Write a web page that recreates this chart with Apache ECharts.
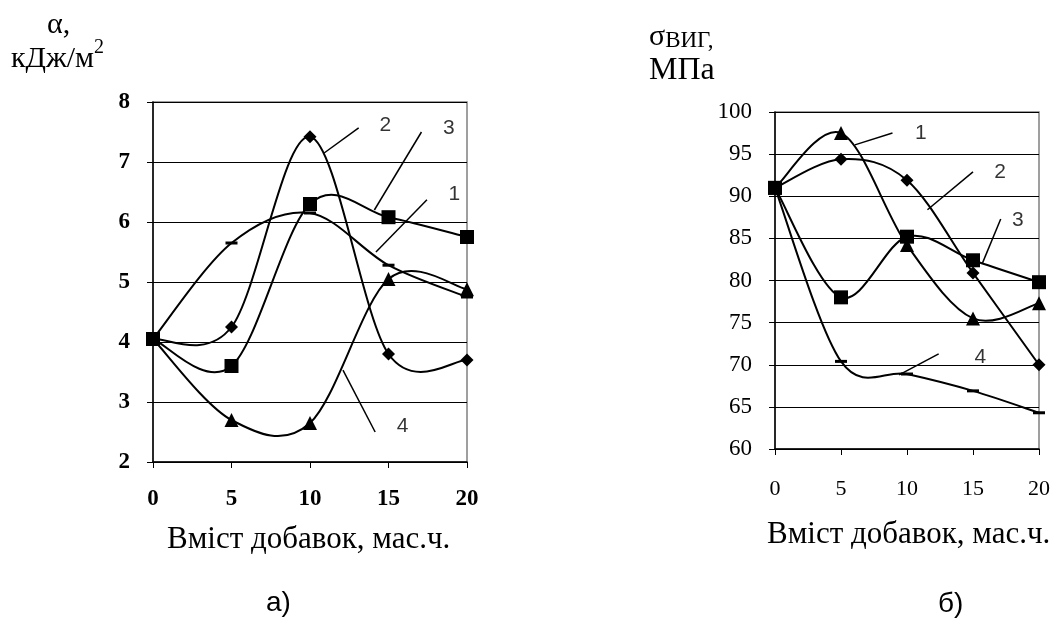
<!DOCTYPE html>
<html><head><meta charset="utf-8">
<script src="https://cdn.jsdelivr.net/npm/echarts@6/dist/echarts.min.js"></script>
<style>html,body{margin:0;padding:0;background:#fff}#c{width:1053px;height:619px}</style>
</head><body><div id="c"></div>
<script>
// X values (content of additives, parts by mass)
const xValues = [0, 5, 10, 15, 20];
// Chart a) impact strength, kJ/m2
const a1 = [4.05, 5.65, 6.15, 5.28, 4.75];
const a2 = [4.05, 4.25, 7.42, 3.80, 3.70];
const a3 = [4.05, 3.60, 6.30, 6.08, 5.75];
const a4 = [4.05, 2.70, 2.65, 5.05, 4.88];
// Chart b) bending strength, MPa
const b1 = [91.0, 97.5, 84.2, 75.5, 77.3];
const b2 = [91.0, 94.4, 91.9, 80.9, 70.0];
const b3 = [91.0, 78.0, 85.2, 82.4, 79.8];
const b4 = [91.0, 70.4, 68.9, 66.9, 64.3];
// Curve label annotations [x, y, text] and leader lines [[x1,y1],[x2,y2]] in data units
const aLabels = [[14.8, 7.62, '2'], [18.85, 7.57, '3'], [19.2, 6.47, '1'], [15.9, 2.6, '4']];
const aLeaders = [[[13.1, 7.57], [10.9, 7.15]], [[17.1, 7.5], [14.1, 6.2]], [[17.45, 6.37], [14.2, 5.5]], [[14.15, 2.5], [12.1, 3.53]]];
const bLabels = [[11.05, 97.5, '1'], [17.06, 92.8, '2'], [18.4, 87.2, '3'], [15.55, 70.9, '4']];
const bLeaders = [[[8.9, 97.5], [6.05, 96.1]], [[15.0, 92.9], [11.55, 88.4]], [[17.1, 87.3], [15.7, 82.0]], [[12.4, 71.3], [9.4, 68.8]]];

const pairs = arr => arr.map((v, i) => [xValues[i], v]);
const chart = echarts.init(document.getElementById('c'));
const serif = 'Liberation Serif';
const sans = 'Liberation Sans';
const markers = {
  diamond: {symbol: 'diamond', symbolSize: 13},
  square: {symbol: 'rect', symbolSize: 14},
  triangle: {symbol: 'triangle', symbolSize: 14},
  dash: {symbol: 'rect', symbolSize: [12, 3]}
};
// Spline through the data points (spreadsheet-style smoothing), drawn via the axis scales
function curve(data, idx) {
  return {
    type: 'custom', xAxisIndex: idx, yAxisIndex: idx, data: pairs(data), z: 3, silent: true,
    renderItem: function (params, api) {
      const i = params.dataIndex, n = data.length;
      if (i >= n - 1) return null;
      const p = data.map((v, k) => api.coord([xValues[k], v]));
      const p0 = p[Math.max(i - 1, 0)], p1 = p[i], p2 = p[i + 1], p3 = p[Math.min(i + 2, n - 1)];
      const t = 1 / 6;
      return {type: 'bezierCurve', shape: {
        x1: p1[0], y1: p1[1], x2: p2[0], y2: p2[1],
        cpx1: p1[0] + (p2[0] - p0[0]) * t, cpy1: p1[1] + (p2[1] - p0[1]) * t,
        cpx2: p2[0] - (p3[0] - p1[0]) * t, cpy2: p2[1] - (p3[1] - p1[1]) * t
      }, style: {stroke: '#000', lineWidth: 2, fill: null}};
    }
  };
}
function marks(data, idx, m) {
  return Object.assign({type: 'scatter', xAxisIndex: idx, yAxisIndex: idx, data: pairs(data),
    itemStyle: {color: '#000', opacity: 1}, z: 4, silent: true}, markers[m]);
}
function labelSeries(labels, idx) {
  return {type: 'scatter', xAxisIndex: idx, yAxisIndex: idx, data: labels, symbolSize: 1,
    itemStyle: {color: 'rgba(0,0,0,0)'}, silent: true, z: 6,
    label: {show: true, position: 'inside', formatter: p => p.value[2], color: '#000',
      textBorderWidth: 0, fontFamily: sans, fontSize: 21}};
}
function leaderSeries(leaders, idx) {
  return {type: 'lines', coordinateSystem: 'cartesian2d', xAxisIndex: idx, yAxisIndex: idx,
    data: leaders.map(c => ({coords: c})), lineStyle: {color: '#000', width: 1.5, opacity: 1}, z: 5, silent: true};
}
function xAxis(idx, bold, margin) {
  return {type: 'value', gridIndex: idx, min: 0, max: 20, interval: 5,
    axisLine: {show: true, lineStyle: {color: '#000', width: 1.5}},
    axisTick: {show: true, length: 6, lineStyle: {color: '#000'}},
    splitLine: {show: false},
    axisLabel: {color: '#000', fontFamily: serif, fontSize: bold ? 23 : 22, fontWeight: bold ? 'bold' : 'normal', margin: margin}};
}
function yAxis(idx, min, max, interval, bold) {
  return {type: 'value', gridIndex: idx, min: min, max: max, interval: interval,
    axisLine: {show: true, lineStyle: {color: '#000', width: 1.5}},
    axisTick: {show: true, length: 6, lineStyle: {color: '#000'}},
    splitLine: {show: true, lineStyle: {color: '#000', width: 1.2}},
    axisLabel: {color: '#000', fontFamily: serif, fontSize: 23, fontWeight: bold ? 'bold' : 'normal', margin: 23}};
}
const txt = (x, y, text, font) => ({type: 'text', left: x, top: y,
  style: {text: text, fill: '#000', font: font}});

chart.setOption({
  animation: false,
  backgroundColor: '#fff',
  grid: [
    {left: 153, top: 102, width: 314, height: 360, show: true, borderColor: '#808080', borderWidth: 1.5, backgroundColor: 'transparent'},
    {left: 775, top: 112, width: 265, height: 337, show: true, borderColor: '#808080', borderWidth: 1.5, backgroundColor: 'transparent'}
  ],
  xAxis: [xAxis(0, true, 26), xAxis(1, false, 29)],
  yAxis: [yAxis(0, 2, 8, 1, true), yAxis(1, 60, 100, 5, false)],
  series: [
    curve(a1, 0), curve(a2, 0), curve(a3, 0), curve(a4, 0),
    curve(b1, 1), curve(b2, 1), curve(b3, 1), curve(b4, 1),
    marks(a1, 0, 'dash'), marks(a2, 0, 'diamond'), marks(a3, 0, 'square'), marks(a4, 0, 'triangle'),
    marks(b1, 1, 'triangle'), marks(b2, 1, 'diamond'), marks(b3, 1, 'square'), marks(b4, 1, 'dash'),
    leaderSeries(aLeaders, 0), leaderSeries(bLeaders, 1),
    labelSeries(aLabels, 0), labelSeries(bLabels, 1)
  ],
  graphic: [
    txt(47, 10, 'α,', '30px ' + serif),
    {type: 'text', left: 11, top: 38, style: {
      text: '{m|кДж/м}{s|2}', rich: {
        m: {font: '30px ' + serif, fill: '#000', verticalAlign: 'bottom'},
        s: {font: '20px ' + serif, fill: '#000', verticalAlign: 'top', padding: [0, 0, 16, 0]}
      }}},
    txt(167, 524, 'Вміст добавок, мас.ч.', '31px ' + serif),
    txt(266, 589, 'а)', '28px ' + sans),
    {type: 'text', left: 649, top: 22, style: {
      text: '{g|σ}{m|ВИГ,}', rich: {
        g: {font: '30px ' + serif, fill: '#000'},
        m: {font: '23px ' + serif, fill: '#000', padding: [8, 0, 0, 0]}
      }}},
    txt(649, 55, 'МПа', '32px ' + serif),
    txt(767, 519, 'Вміст добавок, мас.ч.', '31px ' + serif),
    txt(938, 590, 'б)', '28px ' + sans)
  ]
});
</script></body></html>
